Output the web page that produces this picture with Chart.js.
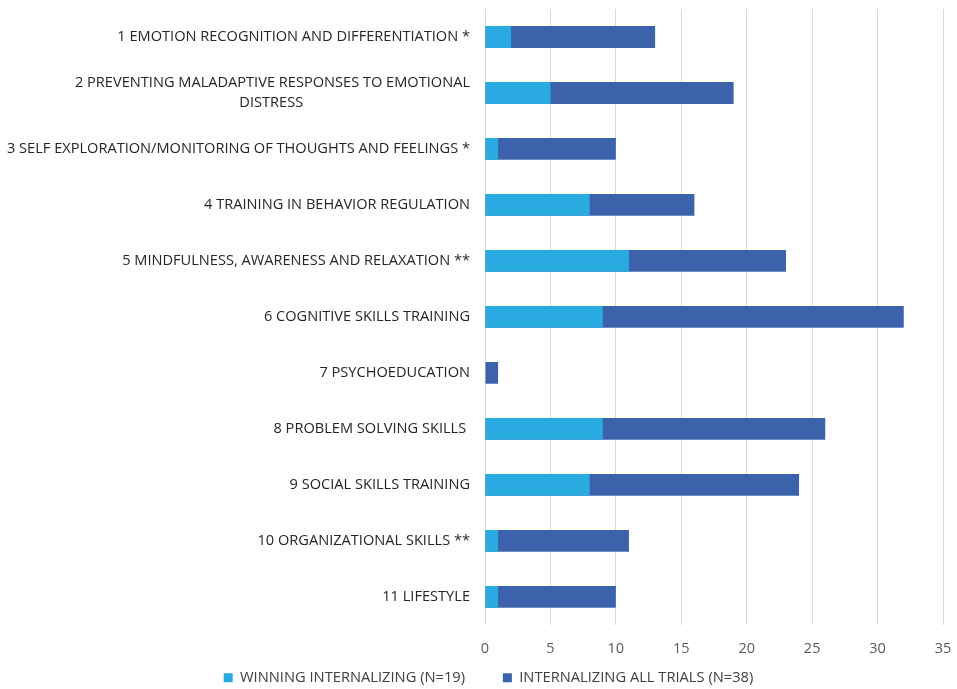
<!DOCTYPE html>
<html>
<head>
<meta charset="utf-8">
<script src="https://cdn.jsdelivr.net/npm/chart.js@4"></script>
<style>
  html, body { margin: 0; padding: 0; background: #fff; }
  #wrap { width: 957px; height: 689px; }
</style>
</head>
<body>
<div id="wrap"><canvas id="myChart"></canvas></div>
<script>
const categories = [
    '1 EMOTION RECOGNITION AND DIFFERENTIATION *',
    ['2 PREVENTING MALADAPTIVE RESPONSES TO EMOTIONAL', 'DISTRESS' + ' '.repeat(44)],
    '3 SELF EXPLORATION/MONITORING OF THOUGHTS AND FEELINGS *',
    '4 TRAINING IN BEHAVIOR REGULATION',
    '5 MINDFULNESS, AWARENESS AND RELAXATION **',
    '6 COGNITIVE SKILLS TRAINING',
    '7 PSYCHOEDUCATION',
    '8 PROBLEM SOLVING SKILLS ',
    '9 SOCIAL SKILLS TRAINING',
    '10 ORGANIZATIONAL SKILLS **',
    '11 LIFESTYLE'
];
const winningInternalizing = [2, 5, 1, 8, 11, 9, 0, 9, 8, 1, 1];
const internalizingAllTrials = [13, 19, 10, 16, 23, 32, 1, 26, 24, 11, 10];
const xTicks = [0, 5, 10, 15, 20, 25, 30, 35];

// nudge the legend a bit to the right, like in the original figure
const legendShift = {
    id: 'legendShift',
    afterLayout(chart) {
        chart.legend.left += 17;
        chart.legend.right += 17;
    }
};

const ctx = document.getElementById('myChart').getContext('2d');
const myChart = new Chart(ctx, {
    type: 'bar',
    data: {
        labels: categories,
        datasets: [{
            // trailing spaces give the gap between the two legend items
            label: 'WINNING INTERNALIZING (N=19)' + ' '.repeat(9),
            data: winningInternalizing,
            backgroundColor: '#29abe2'
        }, {
            label: 'INTERNALIZING ALL TRIALS (N=38)',
            data: internalizingAllTrials,
            backgroundColor: '#3b62ab'
        }]
    },
    options: {
        indexAxis: 'y',
        responsive: true,
        maintainAspectRatio: false,
        animation: false,
        layout: { padding: { left: 0, right: 14, top: 9, bottom: -6 } },
        datasets: {
            bar: { barPercentage: 0.39, categoryPercentage: 1.0 }
        },
        scales: {
            x: {
                min: 0,
                max: 35,
                afterBuildTicks: (scale) => { scale.ticks = xTicks.map(v => ({ value: v })); },
                afterFit: (scale) => {
                    scale.height = 42;
                    scale.paddingLeft = 0;
                    scale.paddingRight = 0;
                },
                grid: { color: '#d9d9d9', drawTicks: false },
                border: { display: false },
                ticks: { color: '#595959', font: { family: 'Open Sans', size: 14.5 }, padding: 15 }
            },
            y: {
                stacked: true,
                grid: { display: false, drawTicks: false },
                border: { display: false },
                afterFit: (scale) => {
                    scale.width = 485;
                    scale.paddingTop = 0;
                    scale.paddingBottom = 0;
                },
                ticks: {
                    color: '#262626',
                    font: { family: 'Open Sans', size: 14.6, lineHeight: 1.37 },
                    padding: 15
                }
            }
        },
        plugins: {
            legend: {
                position: 'bottom',
                labels: {
                    boxWidth: 9,
                    boxHeight: 9,
                    padding: 3.5,
                    color: '#404040',
                    font: { family: 'Open Sans', size: 14.7 }
                }
            },
            tooltip: { enabled: false }
        }
    },
    plugins: [legendShift]
});
</script>
</body>
</html>
